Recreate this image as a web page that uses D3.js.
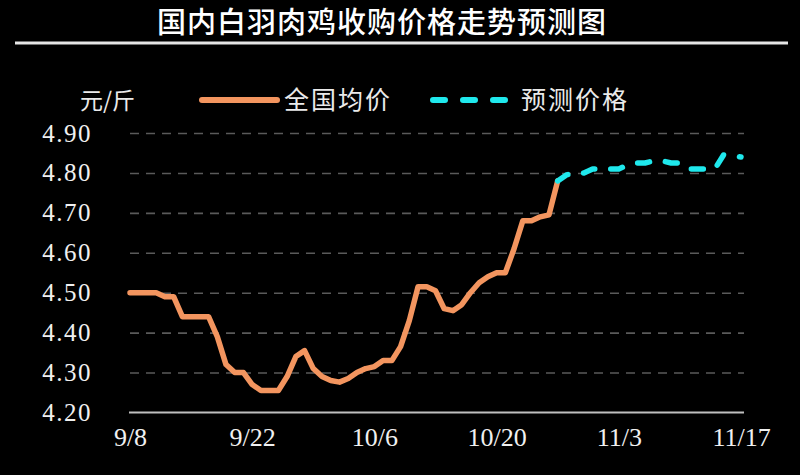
<!DOCTYPE html>
<html><head><meta charset="utf-8">
<script src="https://cdn.jsdelivr.net/npm/d3@7"></script>
<style>body{margin:0;background:#000;} svg{display:block;background:#000;}</style>
</head><body><svg id="c" width="800" height="475"></svg>
<script>
const chartTitle = "国内白羽肉鸡收购价格走势预测图";
const unitLabel = "元/斤";
const seriesNames = ["全国均价", "预测价格"];

const actualDates = ["9/8","9/9","9/10","9/11","9/12","9/13","9/14","9/15","9/16","9/17",
  "9/18","9/19","9/20","9/21","9/22","9/23","9/24","9/25","9/26","9/27",
  "9/28","9/29","9/30","10/1","10/2","10/3","10/4","10/5","10/6","10/7",
  "10/8","10/9","10/10","10/11","10/12","10/13","10/14","10/15","10/16","10/17",
  "10/18","10/19","10/20","10/21","10/22","10/23","10/24","10/25","10/26","10/27"];
const actualValues = [4.50,4.50,4.50,4.50,4.49,4.49,4.44,4.44,4.44,4.44,
  4.39,4.32,4.30,4.30,4.27,4.255,4.255,4.255,4.29,4.34,
  4.355,4.31,4.29,4.28,4.276,4.285,4.30,4.31,4.315,4.33,
  4.33,4.365,4.43,4.515,4.515,4.505,4.46,4.455,4.47,4.50,
  4.525,4.54,4.55,4.55,4.61,4.68,4.68,4.69,4.695,4.78];

const forecastDates = ["10/27","10/28","10/29","10/30","10/31","11/1","11/2","11/3","11/4","11/5",
  "11/6","11/7","11/8","11/9","11/10","11/11","11/12","11/13","11/14","11/15","11/16","11/17"];
const forecastValues = [4.78,4.795,4.80,4.80,4.81,4.81,4.81,4.81,4.82,4.825,
  4.825,4.83,4.83,4.825,4.825,4.81,4.81,4.81,4.81,4.845,4.842,4.84];

const xTickLabels = ["9/8","9/22","10/6","10/20","11/3","11/17"];
const yTicks = [4.20,4.30,4.40,4.50,4.60,4.70,4.80,4.90];

const parse = s => d3.timeParse("%Y/%m/%d")("2021/" + s);
const actual = actualDates.map((d, i) => ({date: parse(d), value: actualValues[i]}));
const forecast = forecastDates.map((d, i) => ({date: parse(d), value: forecastValues[i]}));

const svg = d3.select("#c");
const orange = "#F3955F", cyan = "#1FE8EC";
const serif = "'Liberation Serif','DejaVu Serif',serif";
const cjk = "'Noto Sans CJK SC','Noto Sans',sans-serif";

// Title
svg.append("text").attr("x", 382).attr("y", 33).attr("text-anchor", "middle")
  .attr("fill", "#fff").attr("font-family", cjk).attr("font-size", 29).attr("font-weight", 500)
  .attr("letter-spacing", 1).text(chartTitle);
svg.append("line").attr("x1", 15).attr("x2", 788).attr("y1", 43).attr("y2", 43)
  .attr("stroke", "#e6e6e6").attr("stroke-width", 3);

const x = d3.scaleTime().domain([parse(xTickLabels[0]), parse(xTickLabels[xTickLabels.length - 1])]).range([130, 741]);
const y = d3.scaleLinear().domain([4.2, 4.9]).range([412.5, 133]);

// gridlines
const gridG = svg.append("g").attr("transform", `translate(${x.range()[0]},0)`)
  .call(d3.axisRight(y).tickValues(yTicks.slice(1)).tickSize(x.range()[1] - x.range()[0] + 3).tickFormat(""));
gridG.select(".domain").remove();
gridG.selectAll("line").attr("stroke", "#5a5a5a").attr("stroke-width", 1.6).attr("stroke-dasharray", "9,7");

// y axis labels
const yG = svg.append("g").attr("transform", `translate(${x.range()[0]},0)`)
  .call(d3.axisLeft(y).tickValues(yTicks).tickSize(0).tickPadding(38).tickFormat(d3.format(".2f")));
yG.select(".domain").remove();
yG.selectAll("text").attr("fill", "#f0f0f0").attr("font-family", serif).attr("font-size", 25)
  .attr("letter-spacing", 1.5);

// x axis
const xG = svg.append("g").attr("transform", `translate(0,${y(4.2)})`)
  .call(d3.axisBottom(x).tickValues(xTickLabels.map(parse)).tickSize(0).tickPadding(15)
    .tickFormat(d3.timeFormat("%-m/%-d")));
xG.select(".domain").remove();
xG.selectAll("text").attr("fill", "#f0f0f0").attr("font-family", serif).attr("font-size", 26);
svg.append("line").attr("x1", x.range()[0] - 1).attr("x2", x.range()[1] + 3)
  .attr("y1", y(4.2)).attr("y2", y(4.2)).attr("stroke", "#bfbfbf").attr("stroke-width", 2.2);

// lines
const line = d3.line().x(d => x(d.date)).y(d => y(d.value));
svg.append("path").datum(actual).attr("d", line).attr("fill", "none")
  .attr("stroke", orange).attr("stroke-width", 5.5).attr("stroke-linejoin", "round").attr("stroke-linecap", "round");
svg.append("path").datum(forecast).attr("d", line).attr("fill", "none")
  .attr("stroke", cyan).attr("stroke-width", 5.5).attr("stroke-linejoin", "round").attr("stroke-linecap", "round")
  .attr("stroke-dasharray", "12,16");

// legend
svg.append("text").attr("x", 80).attr("y", 109).attr("fill", "#eaeaea").attr("font-family", cjk)
  .attr("font-size", 23).text(unitLabel);
svg.append("line").attr("x1", 202).attr("x2", 277).attr("y1", 100).attr("y2", 100)
  .attr("stroke", orange).attr("stroke-width", 6).attr("stroke-linecap", "round");
svg.append("text").attr("x", 284).attr("y", 109).attr("fill", "#eaeaea").attr("font-family", cjk)
  .attr("font-size", 25).attr("letter-spacing", 2).text(seriesNames[0]);
svg.append("line").attr("x1", 433).attr("x2", 506).attr("y1", 100).attr("y2", 100)
  .attr("stroke", cyan).attr("stroke-width", 6).attr("stroke-linecap", "round").attr("stroke-dasharray", "12,18");
svg.append("text").attr("x", 521).attr("y", 109).attr("fill", "#eaeaea").attr("font-family", cjk)
  .attr("font-size", 25).attr("letter-spacing", 2).text(seriesNames[1]);
</script></body></html>
